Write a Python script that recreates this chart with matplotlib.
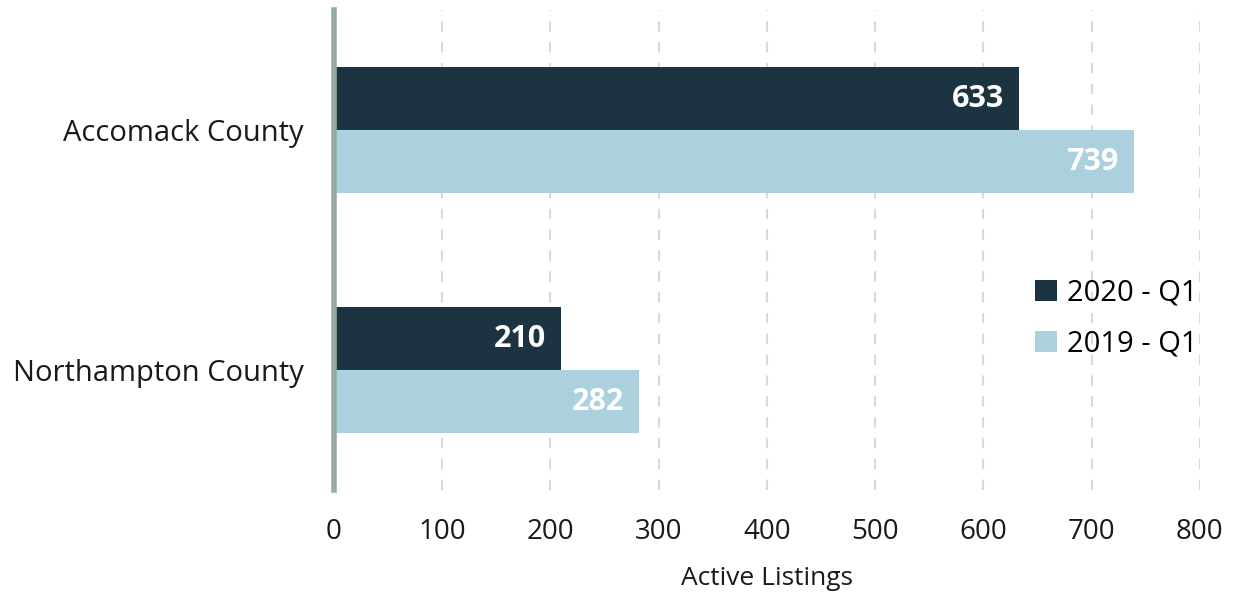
import matplotlib
matplotlib.use("Agg")
import matplotlib.pyplot as plt
import numpy as np

categories = ["Accomack County", "Northampton County"]
series_names = ["2020 - Q1", "2019 - Q1"]
values_2020 = [633, 210]
values_2019 = [739, 282]
xticks = [0, 100, 200, 300, 400, 500, 600, 700, 800]

plt.rcParams['font.family'] = ['Open Sans', 'DejaVu Sans']

fig = plt.figure(figsize=(12.37, 5.95), dpi=100)
ax = fig.add_axes([0.270, 0.176, 0.700, 0.807])

y = np.arange(len(categories))
h = 0.2625
c_dark = "#1c3341"
c_light = "#abd0de"
b1 = ax.barh(y - h/2, values_2020, height=h, color=c_dark, label=series_names[0], zorder=3)
b2 = ax.barh(y + h/2, values_2019, height=h, color=c_light, label=series_names[1], zorder=3)

for bars, vals in ((b1, values_2020), (b2, values_2019)):
    for rect, v in zip(bars, vals):
        ax.annotate(f"{v}", xy=(v, rect.get_y() + rect.get_height()/2),
                    xytext=(-11, 0), textcoords="offset points",
                    ha="right", va="center", color="white",
                    fontsize=22, fontweight="bold", zorder=4)

ax.set_xlim(0, 800)
ax.set_ylim(1.5, -0.5)
ax.set_xticks(xticks)
ax.set_yticks(y)
ax.set_yticklabels(categories)
ax.tick_params(axis='x', length=0, labelsize=20, colors="#1a1a1a", pad=20)
ax.tick_params(axis='y', length=0, labelsize=21, colors="#1a1a1a", pad=22)
ax.xaxis.grid(True, linestyle=(0, (5, 5)), color="#d9d9d9", linewidth=1.5, zorder=0)
for s in ["top", "right", "bottom"]:
    ax.spines[s].set_visible(False)
ax.spines["left"].set_color("#95ada0")
ax.spines["left"].set_linewidth(4)
ax.spines["left"].set_zorder(5)

ax.set_xlabel("Active Listings", fontsize=19, labelpad=14, color="#1a1a1a")

leg = ax.legend(loc="center left", bbox_to_anchor=(0.779, 0.357), frameon=False,
                fontsize=21, handlelength=0.75, handleheight=0.75, handletextpad=0.35,
                labelspacing=0.75)

fig.savefig("out.png", dpi=100)
